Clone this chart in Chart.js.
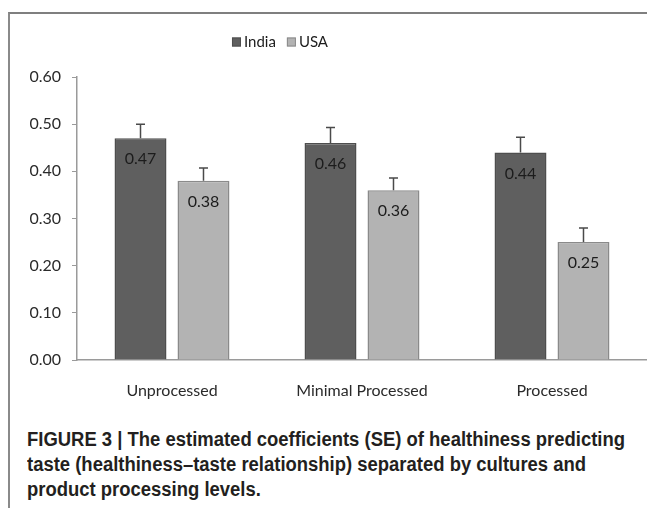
<!DOCTYPE html>
<html>
<head>
<meta charset="utf-8">
<script src="https://cdn.jsdelivr.net/npm/chart.js@4.4.1/dist/chart.umd.min.js"></script>
<style>
  html, body { margin: 0; padding: 0; background: #fff; }
  body { width: 647px; height: 508px; position: relative; overflow: hidden; }
  #frame { position: absolute; left: 8px; top: 12px; width: 660px; height: 520px;
           border-top: 2px solid #7f7f7f; border-left: 2px solid #8a8a8a; box-sizing: border-box; }
  #plot { position: absolute; left: 0; top: 0; width: 647px; height: 400px; }
  #caption { position: absolute; left: 27px; top: 427px; font-family: "Liberation Sans", Arial, sans-serif;
             font-weight: bold; font-size: 20px; line-height: 25px; color: #231f20; white-space: nowrap;
             transform-origin: 0 0; }
</style>
</head>
<body>
<div id="frame"></div>
<div id="plot"><canvas id="chart"></canvas></div>
<div id="caption">
  <div>FIGURE 3 | The estimated coefficients (SE) of healthiness predicting</div>
  <div>taste (healthiness–taste relationship) separated by cultures and</div>
  <div>product processing levels.</div>
</div>
<script>
// Product processing levels on the x axis
const categories = ['Unprocessed', 'Minimal Processed', 'Processed'];
// Estimated coefficients per culture
const indiaValues = [0.47, 0.46, 0.44];
const usaValues = [0.38, 0.36, 0.25];
// Standard errors (drawn as upper error bars)
const indiaSE = [0.03, 0.033, 0.032];
const usaSE = [0.027, 0.026, 0.03];
// Y axis ticks
const yTicks = [0.0, 0.1, 0.2, 0.3, 0.4, 0.5, 0.6];

const seriesNames = ['India', 'USA'];
const fillColors = ['#5f5f5f', '#b3b3b3'];
const edgeColors = ['#4e4e4e', '#8a8a8a'];
const uiFont = 'Lato, "Open Sans", sans-serif';

// Fit the first caption line to the column width
(function () {
  const cap = document.getElementById('caption');
  const c = document.createElement('canvas').getContext('2d');
  c.font = 'bold 20px "Liberation Sans", Arial, sans-serif';
  const w = c.measureText(cap.children[0].textContent).width;
  cap.style.transform = 'scaleX(' + (598 / w) + ')';
})();

// Upper error bars and value labels inside the bars
const barDecorations = {
  id: 'barDecorations',
  afterDatasetsDraw(chart) {
    const ctx = chart.ctx;
    const y = chart.scales.y;
    const errs = [indiaSE, usaSE];
    chart.data.datasets.forEach((ds, di) => {
      const meta = chart.getDatasetMeta(di);
      meta.data.forEach((bar, i) => {
        const v = ds.data[i];
        const top = y.getPixelForValue(v + errs[di][i]);
        ctx.save();
        ctx.strokeStyle = '#4a4a4a';
        ctx.lineWidth = 1.5;
        ctx.beginPath();
        ctx.moveTo(bar.x, bar.y);
        ctx.lineTo(bar.x, top);
        ctx.moveTo(bar.x - 4.5, top);
        ctx.lineTo(bar.x + 4.5, top);
        ctx.stroke();
        ctx.fillStyle = '#1c1c1c';
        ctx.font = '16px ' + uiFont;
        ctx.textAlign = 'center';
        ctx.textBaseline = 'middle';
        ctx.fillText(v.toFixed(2), bar.x, bar.y + 21);
        ctx.restore();
      });
    });
  }
};

// Legend row above the plot
const legendRow = {
  id: 'legendRow',
  afterDraw(chart) {
    const ctx = chart.ctx;
    ctx.save();
    ctx.font = '15px ' + uiFont;
    ctx.textBaseline = 'middle';
    const box = 9, gapBox = 3, gapItem = 11;
    const widths = seriesNames.map(n => box + gapBox + ctx.measureText(n).width);
    const total = widths.reduce((a, b) => a + b, 0) + gapItem * (seriesNames.length - 1);
    let x = 280 - total / 2;
    const cy = 42;
    seriesNames.forEach((n, i) => {
      ctx.fillStyle = fillColors[i];
      ctx.fillRect(x, cy - box / 2, box, box);
      ctx.strokeStyle = edgeColors[i];
      ctx.lineWidth = 1;
      ctx.strokeRect(x + 0.5, cy - box / 2 + 0.5, box - 1, box - 1);
      ctx.fillStyle = '#1c1c1c';
      ctx.fillText(n, x + box + gapBox, cy);
      x += widths[i] + gapItem;
    });
    ctx.restore();
  }
};

new Chart(document.getElementById('chart'), {
  type: 'bar',
  data: {
    labels: categories,
    datasets: [
      { label: seriesNames[0], data: indiaValues, backgroundColor: fillColors[0], borderColor: edgeColors[0],
        borderWidth: 1.5, categoryPercentage: 0.663, barPercentage: 0.825 },
      { label: seriesNames[1], data: usaValues, backgroundColor: fillColors[1], borderColor: edgeColors[1],
        borderWidth: 1.5, categoryPercentage: 0.663, barPercentage: 0.825 }
    ]
  },
  options: {
    responsive: true,
    maintainAspectRatio: false,
    animation: false,
    layout: { padding: { top: 77, left: 0, right: 0, bottom: 0 } },
    plugins: { legend: { display: false }, tooltip: { enabled: false } },
    scales: {
      x: {
        afterFit(s) { s.height = 40; },
        grid: { display: false },
        border: { display: true, color: '#9a9a9a', width: 1.5 },
        ticks: { color: '#2a2a2a', font: { family: uiFont, size: 16 }, padding: 13 }
      },
      y: {
        min: 0, max: 0.6,
        afterFit(s) { s.width = 77; },
        afterBuildTicks(s) { s.ticks = yTicks.map(v => ({ value: v })); },
        grid: { drawOnChartArea: false, drawTicks: true, tickLength: 5, color: '#9a9a9a', lineWidth: 1 },
        border: { display: true, color: '#9a9a9a', width: 1.5 },
        ticks: { color: '#2a2a2a', font: { family: uiFont, size: 16 }, padding: 11,
                 callback: v => Number(v).toFixed(2) }
      }
    }
  },
  plugins: [barDecorations, legendRow]
});
</script>
</body>
</html>
